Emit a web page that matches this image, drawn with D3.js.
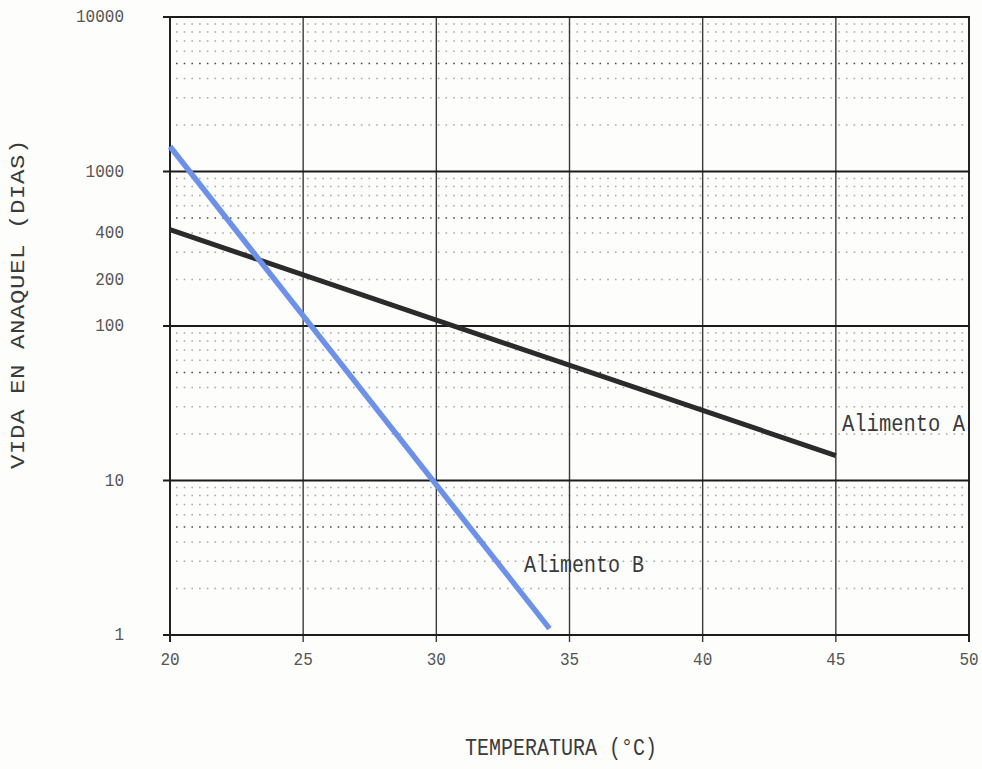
<!DOCTYPE html>
<html>
<head>
<meta charset="utf-8">
<script src="https://cdn.jsdelivr.net/npm/d3@7"></script>
<style>
  html, body { margin: 0; padding: 0; background: #fdfdfc; }
  svg { display: block; }
  text { font-family: "Liberation Mono", "Courier New", monospace; fill: #3a3a3a; }
</style>
</head>
<body>
<svg id="chart" width="982" height="769"></svg>
<script>
// Temperature axis (°C)
const xTicks = [20, 25, 30, 35, 40, 45, 50];
// Shelf-life axis (days), labelled values
const yTicks = [1, 10, 100, 200, 400, 1000, 10000];
// Major decade lines
const yDecades = [1, 10, 100, 1000, 10000];
// Multipliers for minor log grid lines inside each decade
const minorSteps = [2, 3, 4, 5, 6, 7, 8, 9];

// Alimento A: shelf life vs temperature
const tempA = [20, 45];
const lifeA = [420, 14.5];
// Alimento B: shelf life vs temperature
const tempB = [20, 34.25];
const lifeB = [1450, 1.1];

const svg = d3.select("#chart");
const plotL = 170, plotR = 969, plotT = 17, plotB = 635;

const x = d3.scaleLinear().domain([20, 50]).range([plotL, plotR]);
const y = d3.scaleLog().domain([1, 10000]).range([plotB, plotT]);

// Minor dotted grid
const minorVals = [];
[1, 10, 100, 1000].forEach(d => minorSteps.forEach(m => minorVals.push(m * d)));
svg.append("g").selectAll("line").data(minorVals).join("line")
  .attr("x1", plotL + 6).attr("x2", plotR - 2)
  .attr("y1", d => y(d)).attr("y2", d => y(d))
  .attr("stroke", d => (String(d)[0] === "5" ? "#4a4a4a" : "#a8a8a8"))
  .attr("stroke-width", 1.6)
  .attr("stroke-dasharray", "1.6 6.1");

// Vertical grid lines, extending below the axis as ticks
svg.append("g").selectAll("line").data(xTicks).join("line")
  .attr("x1", d => x(d)).attr("x2", d => x(d))
  .attr("y1", plotT).attr("y2", plotB + 7)
  .attr("stroke", d => (d === 20 || d === 50) ? "#222" : "#3a3a3a")
  .attr("stroke-width", d => (d === 20 || d === 50) ? 2 : 1.4);

// Horizontal decade lines, extending left of the axis as ticks
svg.append("g").selectAll("line").data(yDecades).join("line")
  .attr("x1", plotL - 7).attr("x2", plotR + 1)
  .attr("y1", d => y(d)).attr("y2", d => y(d))
  .attr("stroke", "#1c1c1c")
  .attr("stroke-width", 2.2);

// Series lines
const line = d3.line().x(d => x(d[0])).y(d => y(d[1]));
svg.append("path")
  .datum(d3.zip(tempA, lifeA))
  .attr("d", line)
  .attr("fill", "none").attr("stroke", "#2b2b2b").attr("stroke-width", 5);
svg.append("path")
  .datum(d3.zip(tempB, lifeB))
  .attr("d", line)
  .attr("fill", "none").attr("stroke", "#6d91e8").attr("stroke-width", 5.5);

// Vertically stretched text helper
const sy = 1.2;
function label(tx, ty, str, size, anchor, rot) {
  const g = svg.append("g").attr("transform", `translate(${tx},${ty}) scale(1,${sy})` + (rot ? ` rotate(${rot})` : ""));
  return g.append("text").attr("text-anchor", anchor).attr("dominant-baseline", "middle")
    .attr("font-size", size).text(str);
}

// Axis tick labels
xTicks.forEach(t => label(x(t), 660, t, 16, "middle").style("fill", "#555"));
yTicks.forEach(t => label(124, y(t), t, 16, "end").style("fill", "#555"));

// Series labels
label(842, 424, "Alimento A", 20.5, "start");
label(524, 566, "Alimento B", 20, "start");

// Axis titles
label(561, 749, "TEMPERATURA (°C)", 20, "middle");
label(19, 304, "VIDA EN ANAQUEL (DIAS)", 20, "middle", -90)
  .attr("letter-spacing", 0.5);
</script>
</body>
</html>
